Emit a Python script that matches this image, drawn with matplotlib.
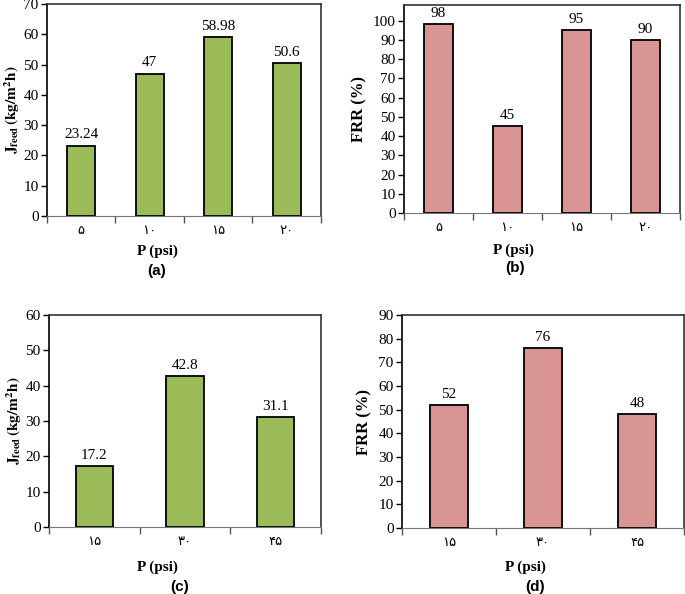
import matplotlib
matplotlib.use("Agg")
import matplotlib.pyplot as plt
import numpy as np

plt.rcParams['font.family'] = ['Liberation Serif', 'DejaVu Sans']
plt.rcParams['mathtext.fontset'] = 'stix'

# ---- data ----
p_ab = ['۵', '۱۰', '۱۵', '۲۰']
jfeed_a = [23.24, 47, 58.98, 50.6]
frr_b = [98, 45, 95, 90]

p_cd = ['۱۵', '۳۰', '۴۵']
jfeed_c = [17.2, 42.8, 31.1]
frr_d = [52, 76, 48]

GREEN = '#9BBB59'
PINK = '#D99594'

fig = plt.figure(figsize=(6.85, 5.94), dpi=100)

panels = [
    # rect, cats, vals, color, ymax, yticks, ylabel, bar labels
    ([0.0686, 0.6364, 0.400, 0.357], p_ab, jfeed_a, GREEN, 70, np.arange(0, 71, 10), 'J', ['23.24', '47', '58.98', '50.6']),
    ([0.5898, 0.6414, 0.403, 0.350], p_ab, frr_b, PINK, 108, np.arange(0, 101, 10), 'FRR', None),
    ([0.0715, 0.1128, 0.397, 0.357], p_cd, jfeed_c, GREEN, 60, np.arange(0, 61, 10), 'J', None),
    ([0.5869, 0.1111, 0.4117, 0.3586], p_cd, frr_d, PINK, 90, np.arange(0, 91, 10), 'FRR', None),
]

for rect, cats, vals, color, ymax, yt, ylab, lbls in panels:
    ax = fig.add_axes(rect)
    x = np.arange(len(cats))
    ax.bar(x, vals, width=0.41, color=color, edgecolor='black', linewidth=1.3, zorder=3)
    ax.set_xlim(-0.5, len(cats) - 0.5)
    ax.set_ylim(0, ymax)
    ax.set_yticks(yt)
    ax.tick_params(axis='y', direction='out', length=4, width=1, labelsize=11, pad=2)
    ax.set_xticks(x)
    ax.set_xticklabels(cats, fontsize=9.5, family=['DejaVu Sans'])
    ax.tick_params(axis='x', which='major', length=0, pad=6)
    ax.set_xticks(np.arange(-0.5, len(cats), 1.0), minor=True)
    ax.tick_params(axis='x', which='minor', direction='out', length=5, width=1, color='#555555')
    for s in ['top', 'right']:
        ax.spines[s].set_color('#333333')
        ax.spines[s].set_linewidth(1.2)
    ax.spines['left'].set_linewidth(1.2)
    ax.spines['bottom'].set_color('#777777')
    if lbls is None:
        lbls = [f'{v:g}' for v in vals]
    for xi, v, t in zip(x, vals, lbls):
        ax.annotate(t, (xi, v), xytext=(0, 3), textcoords='offset points',
                    ha='center', va='bottom', fontsize=11)
    if ylab == 'J':
        ax.set_ylabel(r'$\mathbf{J_{feed}}\,\mathbf{(kg/m^2h)}$', fontsize=11, labelpad=1)
    else:
        ax.set_ylabel('FRR (%)', fontsize=12, fontweight='bold', labelpad=4)

# x labels and panel letters
fig.text(157 / 685, 1 - 251 / 594, 'P (psi)', ha='center', va='center', fontsize=11, fontweight='bold')
fig.text(157 / 685, 1 - 271 / 594, '(a)', ha='center', va='center', fontsize=11, fontweight='bold', family='Liberation Sans')
fig.text(513 / 685, 1 - 250 / 594, 'P (psi)', ha='center', va='center', fontsize=11, fontweight='bold')
fig.text(515 / 685, 1 - 268 / 594, '(b)', ha='center', va='center', fontsize=11, fontweight='bold', family='Liberation Sans')
fig.text(157 / 685, 1 - 567 / 594, 'P (psi)', ha='center', va='center', fontsize=11, fontweight='bold')
fig.text(180 / 685, 1 - 587 / 594, '(c)', ha='center', va='center', fontsize=11, fontweight='bold', family='Liberation Sans')
fig.text(525 / 685, 1 - 567 / 594, 'P (psi)', ha='center', va='center', fontsize=11, fontweight='bold')
fig.text(535 / 685, 1 - 587 / 594, '(d)', ha='center', va='center', fontsize=11, fontweight='bold', family='Liberation Sans')

fig.savefig('out.png', dpi=100)
